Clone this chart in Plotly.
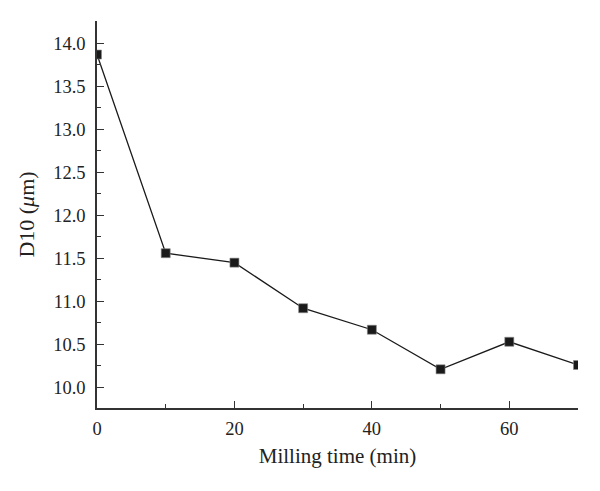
import plotly.graph_objects as go

milling_time = [0, 10, 20, 30, 40, 50, 60, 70]
d10 = [13.87, 11.56, 11.45, 10.92, 10.67, 10.21, 10.53, 10.26]

x_ticks = [0, 20, 40, 60]
y_ticks = [10.0, 10.5, 11.0, 11.5, 12.0, 12.5, 13.0, 13.5, 14.0]

FONT = "Liberation Serif"
AX = "#333333"

fig = go.Figure()
fig.add_trace(go.Scatter(
    x=milling_time, y=d10, mode="lines+markers",
    line=dict(color="#1a1a1a", width=1.3),
    marker=dict(symbol="square", size=9, color="#1a1a1a",
                line=dict(color="#888888", width=0.6)),
    cliponaxis=True, showlegend=False,
))

# page body has an 8px default margin, so the figure is sized 8px smaller
fig.update_layout(
    width=592, height=483,
    margin=dict(l=89, r=22, t=13, b=83),
    paper_bgcolor="white", plot_bgcolor="white",
    font=dict(family=FONT, size=18, color="#222222"),
    xaxis=dict(
        range=[0, 70], tickvals=x_ticks, ticktext=[str(v) for v in x_ticks],
        ticks="inside", ticklen=7, tickwidth=1.3, tickcolor=AX,
        minor=dict(ticks="inside", ticklen=4, tickwidth=1.2, tickcolor=AX, dtick=10, tick0=0),
        showline=True, linecolor=AX, linewidth=1.5, showgrid=False, zeroline=False,
        title=dict(text="Milling time (min)", font=dict(family=FONT, size=21), standoff=10),
        tickfont=dict(family=FONT, size=18.5), ticklabelstandoff=3,
    ),
    yaxis=dict(
        range=[9.76, 14.26], tickvals=y_ticks, ticktext=[f"{v:.1f}" for v in y_ticks],
        ticks="inside", ticklen=7, tickwidth=1.3, tickcolor=AX,
        minor=dict(ticks="inside", ticklen=4, tickwidth=1.2, tickcolor=AX, dtick=0.25, tick0=0),
        showline=True, linecolor=AX, linewidth=1.5, showgrid=False, zeroline=False,
        title=dict(text="D10 (<i>μ</i>m)", font=dict(family=FONT, size=22), standoff=12),
        tickfont=dict(family=FONT, size=18.5), ticklabelstandoff=6,
    ),
)

fig.write_html("out.html")
